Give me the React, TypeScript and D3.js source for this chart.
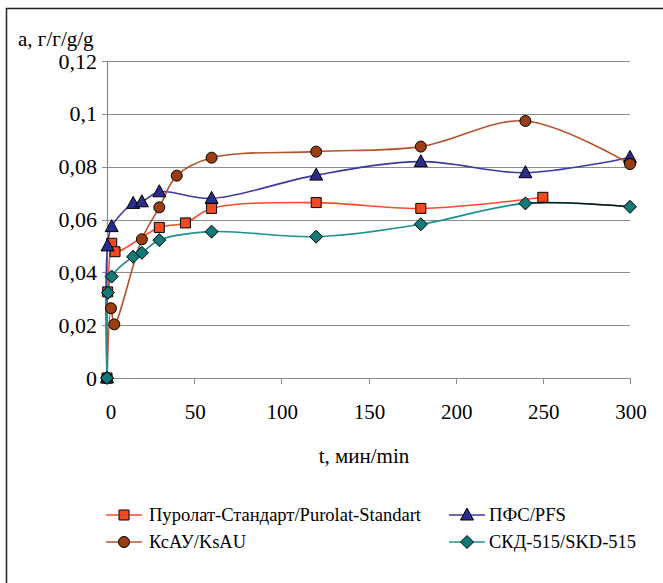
import React, { useEffect, useRef } from 'react';
import * as d3 from 'd3';

// time (min) and adsorption (g/g) for each sorbent
const purolatT = [0, 0.4, 2.7, 4.6, 30, 45, 60, 120, 180, 250];
const purolatA = [0, 0.0326, 0.051, 0.0478, 0.057, 0.0587, 0.0642, 0.0664, 0.0642, 0.0684];

const pfsT = [0, 0.3, 2.7, 15, 20, 30, 60, 120, 180, 240, 300];
const pfsA = [0, 0.05, 0.0573, 0.0661, 0.0667, 0.0705, 0.068, 0.0768, 0.0819, 0.0777, 0.0835];

const ksauT = [0, 2.3, 4.2, 20, 30, 40, 60, 120, 180, 240, 300];
const ksauA = [0, 0.0264, 0.0203, 0.0525, 0.0646, 0.0766, 0.0834, 0.0857, 0.0876, 0.0973, 0.081];

const skdT = [0, 0.5, 2.7, 15, 20, 30, 60, 120, 180, 240, 300];
const skdA = [0, 0.0323, 0.0384, 0.0459, 0.0474, 0.0522, 0.0554, 0.0535, 0.0582, 0.0661, 0.0648];

const xTicks = [0, 50, 100, 150, 200, 250, 300];
const yTicks = [0, 0.02, 0.04, 0.06, 0.08, 0.1, 0.12];

const seriesNames = ['Пуролат-Стандарт/Purolat-Standart', 'ПФС/PFS', 'КсАУ/KsAU', 'СКД-515/SKD-515'];

const FONT = "'Liberation Serif', 'Times New Roman', serif";

const App = () => {
  const chartRef = useRef(null);

  useEffect(() => {
    const width = 663, height = 583;
    const left = 107, right = 630, top = 61, bottom = 378;

    d3.select(chartRef.current).selectAll('*').remove();
    const svg = d3.select(chartRef.current)
      .attr('width', width)
      .attr('height', height)
      .style('font-family', FONT);

    svg.append('rect').attr('width', width).attr('height', height).attr('fill', '#fff');

    // outer frame (cropped on the right and bottom)
    svg.append('path')
      .attr('d', `M6.5,${height + 2}V8.5H${width + 2}`)
      .attr('fill', 'none')
      .attr('stroke', '#222')
      .attr('stroke-width', 1.5);

    const x = d3.scaleLinear().domain([0, 300]).range([left, right]);
    const y = d3.scaleLinear().domain([0, 0.12]).range([bottom, top]);

    const fmt = (v: number) => (v === 0 ? '0' : String(+v.toFixed(2)).replace('.', ','));

    // gridlines
    svg.append('g')
      .selectAll('line')
      .data(yTicks.filter(d => d > 0))
      .enter()
      .append('line')
      .attr('x1', left)
      .attr('x2', right)
      .attr('y1', d => Math.round(y(d)) + 0.5)
      .attr('y2', d => Math.round(y(d)) + 0.5)
      .attr('stroke', '#8c8c8c')
      .attr('stroke-width', 1.2);

    // x axis
    const xAxis = svg.append('g');
    xAxis.append('line')
      .attr('x1', left).attr('x2', right)
      .attr('y1', bottom + 0.5).attr('y2', bottom + 0.5)
      .attr('stroke', '#8c8c8c').attr('stroke-width', 1.2);
    xAxis.selectAll('.xt')
      .data(xTicks)
      .enter()
      .append('line')
      .attr('x1', d => Math.round(x(d)) + 0.5)
      .attr('x2', d => Math.round(x(d)) + 0.5)
      .attr('y1', bottom)
      .attr('y2', bottom + 6)
      .attr('stroke', '#8c8c8c');
    xAxis.selectAll('text')
      .data(xTicks)
      .enter()
      .append('text')
      .attr('x', d => x(d) + (d === 0 ? 4 : 1))
      .attr('y', 419)
      .attr('text-anchor', 'middle')
      .attr('font-size', 21)
      .text(d => d);

    // y axis
    const yAxis = svg.append('g');
    yAxis.append('line')
      .attr('x1', left + 0.5).attr('x2', left + 0.5)
      .attr('y1', top).attr('y2', bottom)
      .attr('stroke', '#8c8c8c').attr('stroke-width', 1.2);
    yAxis.selectAll('.yt')
      .data(yTicks)
      .enter()
      .append('line')
      .attr('x1', left - 5)
      .attr('x2', left)
      .attr('y1', d => Math.round(y(d)) + 0.5)
      .attr('y2', d => Math.round(y(d)) + 0.5)
      .attr('stroke', '#8c8c8c');
    yAxis.selectAll('text')
      .data(yTicks)
      .enter()
      .append('text')
      .attr('x', 97)
      .attr('y', d => y(d) + 7.5)
      .attr('text-anchor', 'end')
      .attr('font-size', 22)
      .text(d => fmt(d));

    // axis titles
    svg.append('text')
      .attr('x', 18).attr('y', 46)
      .attr('font-size', 21)
      .text('a, г/г/g/g');
    svg.append('text')
      .attr('x', 364).attr('y', 463)
      .attr('text-anchor', 'middle')
      .attr('font-size', 21)
      .text('t, мин/min');

    const series = [
      { t: purolatT, a: purolatA, line: '#ff4a2a', fill: '#f24a22', marker: 'square' },
      { t: pfsT, a: pfsA, line: '#3a3aa0', fill: '#2b2d8c', marker: 'triangle' },
      { t: ksauT, a: ksauA, line: '#b3542a', fill: '#9a3d10', marker: 'circle' },
      { t: skdT, a: skdA, line: '#1f9090', fill: '#0e7a7a', marker: 'diamond' },
    ];

    const symbolFor = (m: string) => {
      if (m === 'square') return 'M-5,-5H5V5H-5Z';
      if (m === 'triangle') return 'M0,-7L6.5,5H-6.5Z';
      if (m === 'circle') return d3.symbol().type(d3.symbolCircle).size(95)();
      return 'M0,-6.5L6.5,0L0,6.5L-6.5,0Z';
    };

    const lineGen = d3.line<[number, number]>()
      .x(d => x(d[0]))
      .y(d => y(d[1]))
      .curve(d3.curveCatmullRom.alpha(0.5));

    svg.append('defs').append('clipPath')
      .attr('id', 'tail')
      .append('rect')
      .attr('x', x(240)).attr('y', 0)
      .attr('width', width).attr('height', height);

    const plot = svg.append('g');
    series.forEach(s => {
      const pts = s.t.map((t, i) => [t, s.a[i]] as [number, number]);
      plot.append('path')
        .attr('d', lineGen(pts))
        .attr('fill', 'none')
        .attr('stroke', s.line)
        .attr('stroke-width', 1.6);
      if (s.marker === 'diamond') {
        // last segment of this series is drawn dark in the original
        plot.append('path')
          .attr('d', lineGen(pts))
          .attr('fill', 'none')
          .attr('stroke', '#111')
          .attr('stroke-width', 1.4)
          .attr('clip-path', 'url(#tail)');
      }
    });
    series.forEach(s => {
      plot.append('g')
        .selectAll('path')
        .data(s.t.map((t, i) => [t, s.a[i]]))
        .enter()
        .append('path')
        .attr('d', symbolFor(s.marker))
        .attr('transform', d => `translate(${x(d[0])},${y(d[1])})`)
        .attr('fill', s.fill)
        .attr('stroke', '#000')
        .attr('stroke-width', 1);
    });

    // legend
    const legendPos = [
      { lx: 106, ty: 515, w: 272 },
      { lx: 449, ty: 515, w: 77 },
      { lx: 106, ty: 542, w: 97 },
      { lx: 449, ty: 542, w: 147 },
    ];
    const legend = svg.append('g');
    series.forEach((s, i) => {
      const p = legendPos[i];
      const g = legend.append('g').attr('transform', `translate(${p.lx},${p.ty})`);
      g.append('line')
        .attr('x1', 0).attr('x2', 36)
        .attr('stroke', s.line).attr('stroke-width', 1.6);
      g.append('path')
        .attr('d', symbolFor(s.marker))
        .attr('transform', 'translate(18,0)')
        .attr('fill', s.fill)
        .attr('stroke', '#000');
      g.append('text')
        .attr('x', i % 2 === 0 ? 43 : 40)
        .attr('y', 6)
        .attr('font-size', 18)
        .attr('textLength', p.w)
        .attr('lengthAdjust', 'spacingAndGlyphs')
        .text(seriesNames[i]);
    });
  }, []);

  return (
    <div style={{ position: 'absolute', left: 0, top: 0 }}>
      <svg ref={chartRef}></svg>
    </div>
  );
};

export default App;
